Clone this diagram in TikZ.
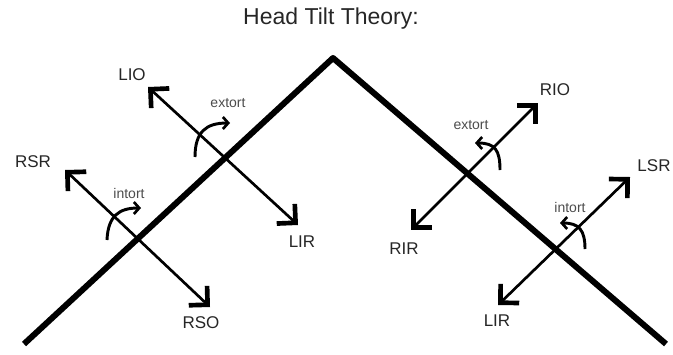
\documentclass[tikz,border=0pt]{standalone}
\usepackage{fontspec}
\setmainfont{Liberation Sans}
\usetikzlibrary{arrows.meta}
\begin{document}
\begin{tikzpicture}[x=0.75pt,y=-0.75pt,
  lbl/.style={font=\fontsize{12.75pt}{14pt}\selectfont, text=black!85, inner sep=0pt},
  small/.style={font=\fontsize{10.5pt}{12pt}\selectfont, text=black!70, inner sep=0pt},
  ttl/.style={font=\fontsize{17.25pt}{20pt}\selectfont, text=black!85, inner sep=0pt},
  bigtip/.tip={Straight Barb[length=10pt,width=20pt,line width=3.5pt]},
  smalltip/.tip={Straight Barb[length=4pt,width=9pt,line width=2pt]},
  axisline/.style={line width=2pt, bigtip-bigtip},
  rotline/.style={line width=2.2pt, -smalltip},
  ridge/.style={line width=4.5pt, line join=round}]
\useasboundingbox (0,0) rectangle (673,354);

\node[ttl] (title) at (331,19) {Head Tilt Theory:};

% ridge
\coordinate (L) at (24,344);
\coordinate (A) at (333,58);
\coordinate (R) at (666,344);
\draw[ridge] (L) -- (A) -- (R);

% axis end points
\coordinate (lio) at (148,87);
\coordinate (lirA) at (298,225);
\coordinate (rsr) at (65,170);
\coordinate (rso) at (210,307);
\coordinate (rio) at (538,103);
\coordinate (rir) at (411,230);
\coordinate (lsr) at (630,177);
\coordinate (lirB) at (498,305);

\draw[axisline] (lio) -- (lirA);
\draw[axisline] (rsr) -- (rso);
\draw[axisline] (rio) -- (rir);
\draw[axisline] (lsr) -- (lirB);

% torsion arrows
\coordinate (e1s) at (195,157); \coordinate (e1e) at (230,123);
\coordinate (i1s) at (107,240); \coordinate (i1e) at (141,208);
\coordinate (e2s) at (500,170); \coordinate (e2e) at (475,143);
\coordinate (i2s) at (585,249); \coordinate (i2e) at (560,223);
\draw[rotline] (e1s) .. controls (195,132) and (206,123) .. (e1e);
\draw[rotline] (i1s) .. controls (108,216) and (119,208) .. (i1e);
\draw[rotline] (e2s) .. controls (500,150) and (495,143) .. (e2e);
\draw[rotline] (i2s) .. controls (585,230) and (579,223) .. (i2e);

% labels
\node[lbl] (tLIO) at (132,75) {LIO};
\node[lbl] (tLIRa) at (302,242) {LIR};
\node[lbl] (tRSR) at (33,162) {RSR};
\node[lbl] (tRSO) at (201,323) {RSO};
\node[lbl] (tRIO) at (555,90) {RIO};
\node[lbl] (tRIR) at (404,249) {RIR};
\node[lbl] (tLSR) at (654,166) {LSR};
\node[lbl] (tLIRb) at (497,321) {LIR};
\node[small] (ex1) at (228,103) {extort};
\node[small] (in1) at (129,193) {intort};
\node[small] (ex2) at (471,125) {extort};
\node[small] (in2) at (570,207) {intort};
\end{tikzpicture}
\end{document}
